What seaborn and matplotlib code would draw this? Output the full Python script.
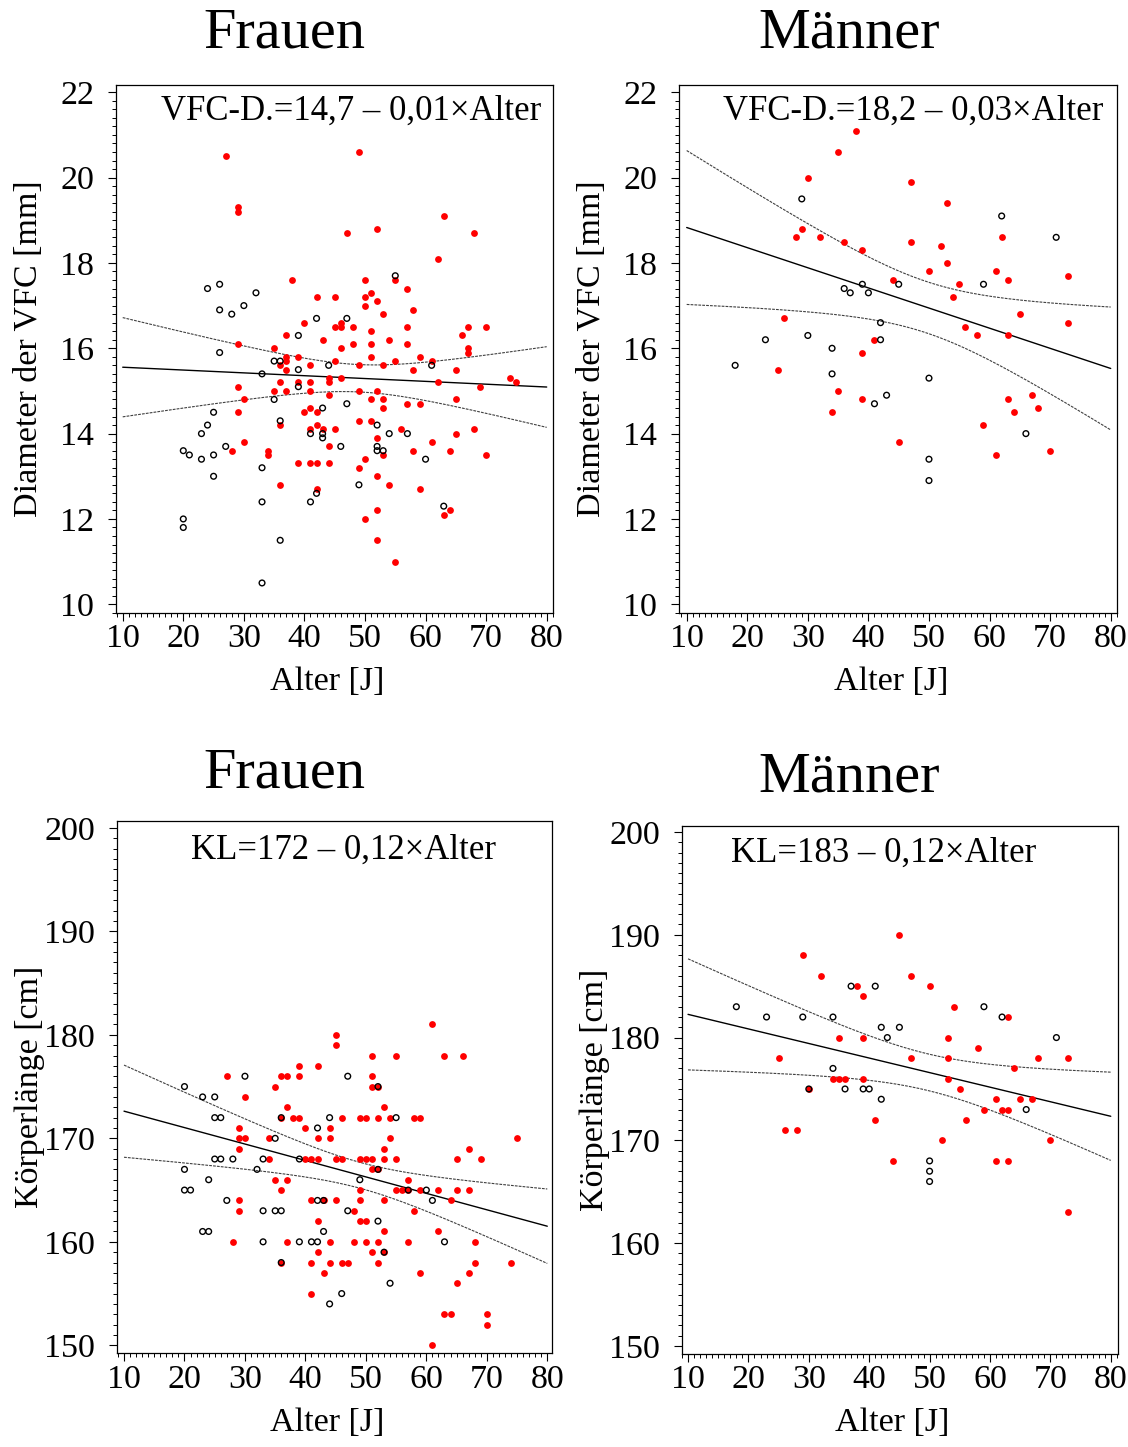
import numpy as np
import pandas as pd
import matplotlib
matplotlib.use("Agg")
import matplotlib.pyplot as plt
import seaborn as sns
from matplotlib.ticker import MultipleLocator

# ---------------- data ----------------
# Panel 1: Frauen, VFC diameter [mm]
f_vfc_red_age = [27, 29, 29, 38, 42, 40, 37, 43, 29, 35, 37, 37, 37, 39, 36, 41, 44, 44, 29, 36,
                 39, 41, 30, 35, 37, 41, 44, 29, 40, 41, 42, 36, 41, 42, 43, 30, 28, 34, 34, 44,
                 39, 41, 42, 44, 36, 42,
                 49, 63, 47, 52, 68, 62, 50, 55, 57, 45, 50, 51, 52, 50, 53, 58, 45, 46, 46, 48,
                 57, 67, 70, 51, 66, 46, 48, 51, 54, 57, 67, 67, 51, 59, 45, 49, 53, 55, 61, 58,
                 65, 46, 62, 74, 75, 69, 49, 52, 51, 53, 53, 57, 59, 65, 45, 49, 51, 56, 52, 65,
                 68, 50, 49, 53, 58, 61, 64, 70, 52, 54, 59, 52, 50, 63, 64, 52, 55]
f_vfc_red_val = [20.5, 19.3, 19.2, 17.6, 17.2, 16.6, 16.3, 16.2, 16.1, 16.0, 15.8, 15.7, 15.5, 15.8, 15.6, 15.6, 15.3, 15.2, 15.1, 15.2,
                 15.2, 15.2, 14.8, 15.0, 15.0, 15.0, 14.9, 14.5, 14.5, 14.6, 14.5, 14.2, 14.1, 14.2, 14.1, 13.8, 13.6, 13.6, 13.5, 13.7,
                 13.3, 13.3, 13.3, 13.3, 12.8, 12.7,
                 20.6, 19.1, 18.7, 18.8, 18.7, 18.1, 17.6, 17.6, 17.4, 17.2, 17.2, 17.3, 17.1, 17.0, 16.8, 16.9, 16.5, 16.6, 16.5, 16.5,
                 16.5, 16.5, 16.5, 16.4, 16.3, 16.0, 16.1, 16.1, 16.2, 16.1, 16.0, 15.9, 15.8, 15.8, 15.7, 15.6, 15.6, 15.7, 15.7, 15.5,
                 15.5, 15.3, 15.2, 15.3, 15.2, 15.1, 15.0, 15.0, 14.8, 14.8, 14.6, 14.7, 14.7, 14.8, 14.1, 14.3, 14.3, 14.1, 13.9, 14.0,
                 14.1, 13.4, 13.2, 13.5, 13.6, 13.8, 13.6, 13.5, 13.0, 12.8, 12.7, 12.2, 12.0, 12.1, 12.2, 11.5, 11.0]
f_vfc_blk_age = [24, 26, 32, 26, 28, 30, 42, 39, 26, 35, 36, 39, 33, 44, 39, 35, 25, 24, 23, 36,
                 41, 43, 43, 43, 20, 21, 23, 25, 27, 25, 33, 33, 41, 42, 20, 20, 36, 33,
                 55, 47, 61, 47, 52, 54, 57, 46, 52, 52, 53, 60, 49, 63]
f_vfc_blk_val = [17.4, 17.5, 17.3, 16.9, 16.8, 17.0, 16.7, 16.3, 15.9, 15.7, 15.7, 15.5, 15.4, 15.6, 15.1, 14.8, 14.5, 14.2, 14.0, 14.3,
                 14.0, 14.6, 14.0, 13.9, 13.6, 13.5, 13.4, 13.5, 13.7, 13.0, 13.2, 12.4, 12.4, 12.6, 12.0, 11.8, 11.5, 10.5,
                 17.7, 16.7, 15.6, 14.7, 14.2, 14.0, 14.0, 13.7, 13.7, 13.6, 13.6, 13.4, 12.8, 12.3]

# Panel 2: Männer, VFC diameter [mm]
m_vfc_red_age = [38, 35, 30, 29, 28, 32, 36, 39, 44, 26, 25, 41, 39, 35, 39, 34, 45,
                 47, 53, 47, 52, 62, 53, 50, 61, 63, 73, 55, 54, 65, 73, 56, 58, 63, 63, 67, 64,
                 68, 59, 61, 70]
m_vfc_red_val = [21.1, 20.6, 20.0, 18.8, 18.6, 18.6, 18.5, 18.3, 17.6, 16.7, 15.5, 16.2, 15.9, 15.0, 14.8, 14.5, 13.8,
                 19.9, 19.4, 18.5, 18.4, 18.6, 18.0, 17.8, 17.8, 17.6, 17.7, 17.5, 17.2, 16.8, 16.6, 16.5, 16.3, 16.3, 14.8, 14.9, 14.5,
                 14.6, 14.2, 13.5, 13.6]
m_vfc_blk_age = [29, 36, 37, 39, 40, 45, 42, 42, 23, 30, 34, 34, 18, 43, 41,
                 62, 71, 59, 50, 66, 50, 50]
m_vfc_blk_val = [19.5, 17.4, 17.3, 17.5, 17.3, 17.5, 16.6, 16.2, 16.2, 16.3, 16.0, 15.4, 15.6, 14.9, 14.7,
                 19.1, 18.6, 17.5, 15.3, 14.0, 13.4, 12.9]

# Panel 3: Frauen, body length [cm]
f_kl_red_age = [45, 45, 27, 36, 37, 39, 39, 42, 35, 30, 37, 38, 39, 36, 29, 40, 44, 29, 30, 34,
                42, 44, 29, 34, 40, 41, 42, 45, 35, 37, 36, 29, 29, 41, 43, 45, 42, 28, 37, 44,
                42, 36, 41, 44, 43, 41,
                61, 51, 55, 63, 66, 51, 51, 52, 53, 46, 49, 50, 52, 54, 58, 59, 54, 53, 67, 75,
                46, 49, 50, 51, 53, 55, 65, 69, 51, 52, 57, 49, 55, 56, 57, 59, 62, 65, 67, 49,
                53, 64, 48, 58, 49, 50, 53, 62, 48, 50, 52, 57, 68, 51, 53, 46, 47, 52, 68, 74,
                59, 67, 65, 63, 64, 70, 70, 61]
f_kl_red_val = [180, 179, 176, 176, 176, 177, 176, 177, 175, 174, 173, 172, 172, 172, 171, 171, 171, 170, 170, 170,
                170, 170, 169, 168, 168, 168, 168, 168, 166, 166, 165, 164, 163, 164, 164, 164, 162, 160, 160, 160,
                159, 158, 158, 158, 157, 155,
                181, 178, 178, 178, 178, 176, 175, 175, 173, 172, 172, 172, 172, 172, 172, 172, 170, 169, 169, 170,
                168, 168, 168, 168, 168, 168, 168, 168, 167, 167, 166, 165, 165, 165, 165, 165, 165, 165, 165, 164,
                164, 164, 163, 163, 162, 162, 161, 161, 160, 160, 160, 160, 160, 159, 159, 158, 158, 158, 158, 158,
                157, 157, 156, 153, 153, 153, 152, 150]
f_kl_blk_age = [20, 23, 25, 30, 25, 26, 36, 44, 42, 35, 25, 26, 28, 33, 39, 20, 32, 24, 20, 21,
                27, 42, 43, 33, 35, 36, 23, 24, 43, 33, 39, 41, 42, 36, 44,
                47, 52, 55, 49, 52, 57, 60, 61, 47, 52, 63, 53, 54, 46]
f_kl_blk_val = [175, 174, 174, 176, 172, 172, 172, 172, 171, 170, 168, 168, 168, 168, 168, 167, 167, 166, 165, 165,
                164, 164, 164, 163, 163, 163, 161, 161, 161, 160, 160, 160, 160, 158, 154,
                176, 175, 172, 166, 167, 165, 165, 164, 163, 162, 160, 159, 156, 155]

# Panel 4: Männer, body length [cm]
m_kl_red_age = [45, 29, 32, 38, 39, 35, 39, 25, 34, 35, 36, 39, 30, 41, 26, 28, 44,
                47, 50, 54, 63, 53, 58, 47, 53, 68, 73, 64, 53, 55, 61, 65, 67, 59, 62, 63, 56,
                70, 52, 61, 63, 73]
m_kl_red_val = [190, 188, 186, 185, 184, 180, 180, 178, 176, 176, 176, 176, 175, 172, 171, 171, 168,
                186, 185, 183, 182, 180, 179, 178, 178, 178, 178, 177, 176, 175, 174, 174, 174, 173, 173, 173, 172,
                170, 170, 168, 168, 163]
m_kl_blk_age = [18, 23, 29, 34, 37, 41, 42, 45, 43, 34, 30, 36, 39, 40, 42,
                59, 62, 71, 66, 50, 50, 50]
m_kl_blk_val = [183, 182, 182, 182, 185, 185, 181, 181, 180, 177, 175, 175, 175, 175, 174,
                183, 182, 180, 173, 168, 167, 166]

titles = ["Frauen", "Männer", "Frauen", "Männer"]
equations = ["VFC-D.=14,7 – 0,01×Alter", "VFC-D.=18,2 – 0,03×Alter",
             "KL=172 – 0,12×Alter", "KL=183 – 0,12×Alter"]
ylabels = ["Diameter der VFC [mm]", "Diameter der VFC [mm]",
           "Körperlänge [cm]", "Körperlänge [cm]"]
xlabel = "Alter [J]"
x_ticks = [10, 20, 30, 40, 50, 60, 70, 80]
y_ticks_vfc = [10, 12, 14, 16, 18, 20, 22]
y_ticks_kl = [150, 160, 170, 180, 190, 200]
fit_range = [10, 80]

# ---------------- style ----------------
sns.set_style("ticks")
plt.rcParams['font.family'] = ['Liberation Serif', 'DejaVu Serif']
for key in ['text.color', 'axes.labelcolor', 'xtick.color', 'ytick.color', 'axes.edgecolor']:
    plt.rcParams[key] = 'black'
plt.rcParams['axes.linewidth'] = 0.9

fig = plt.figure(figsize=(11.28, 14.47), dpi=100)

W, H = 1128, 1447
boxes = [(116, 553, 85, 613), (679.3, 1117, 85, 613),
         (116.7, 552, 821, 1353.3), (682, 1117.7, 826, 1354)]
xlims = [(8.89, 81.04), (8.78, 81.04), (8.79, 80.78), (9.0, 81.15)]
ylims = [(9.796, 22.17), (9.796, 22.17), (149.23, 200.66), (149.22, 200.58)]
eq_pos = [(0.538, 0.934), (0.534, 0.934), (0.522, 0.930), (0.463, 0.932)]
title_pos = [(284.5, 48), (849, 48), (284.5, 787), (849, 791)]

panels = [
    (f_vfc_red_age, f_vfc_red_val, f_vfc_blk_age, f_vfc_blk_val),
    (m_vfc_red_age, m_vfc_red_val, m_vfc_blk_age, m_vfc_blk_val),
    (f_kl_red_age, f_kl_red_val, f_kl_blk_age, f_kl_blk_val),
    (m_kl_red_age, m_kl_red_val, m_kl_blk_age, m_kl_blk_val),
]


def regression_bands(x, y, xs):
    """OLS fit with 95 % confidence band of the mean."""
    x = np.asarray(x, float)
    y = np.asarray(y, float)
    n = len(x)
    df = n - 2
    t = 1.96 + 2.4 / df
    b, a = np.polyfit(x, y, 1)
    yhat = a + b * xs
    s = np.sqrt(np.sum((y - (a + b * x)) ** 2) / df)
    sxx = np.sum((x - x.mean()) ** 2)
    h = t * s * np.sqrt(1.0 / n + (xs - x.mean()) ** 2 / sxx)
    return yhat, yhat - h, yhat + h


for i, (ra, rv, ba, bv) in enumerate(panels):
    l, r, t, b = boxes[i]
    ax = fig.add_axes([l / W, 1 - b / H, (r - l) / W, (b - t) / H])
    red = pd.DataFrame({"Alter": ra, "Wert": rv})
    blk = pd.DataFrame({"Alter": ba, "Wert": bv})
    sns.scatterplot(data=red, x="Alter", y="Wert", ax=ax, color="#ff0000",
                    s=24, linewidth=0, zorder=3, legend=False)
    sns.scatterplot(data=blk, x="Alter", y="Wert", ax=ax, color="black",
                    s=17, linewidth=1.0, zorder=4, legend=False)
    coll = ax.collections[-1]
    coll.set_facecolor("none")
    coll.set_edgecolor("black")

    xs = np.linspace(fit_range[0], fit_range[1], 200)
    yhat, lo, hi = regression_bands(ra, rv, xs)
    ax.plot(xs, yhat, color="black", lw=1.0, zorder=2)
    ax.plot(xs, lo, color="0.25", lw=0.8, ls=(0, (2.5, 1)), zorder=2)
    ax.plot(xs, hi, color="0.25", lw=0.8, ls=(0, (2.5, 1)), zorder=2)

    ax.set_xlim(*xlims[i])
    ax.set_ylim(*ylims[i])
    ax.set_xticks(x_ticks)
    ax.xaxis.set_minor_locator(MultipleLocator(1))
    if i < 2:
        ax.set_yticks(y_ticks_vfc)
        ax.yaxis.set_minor_locator(MultipleLocator(0.2))
    else:
        ax.set_yticks(y_ticks_kl)
        ax.yaxis.set_minor_locator(MultipleLocator(1))
    ax.tick_params(which="major", length=5.8, width=0.8, direction="out",
                   labelsize=24.5, color="black", labelcolor="black")
    ax.tick_params(which="minor", length=2.9, width=0.7, direction="out", color="black")
    ax.tick_params(axis="x", which="major", pad=2)
    ax.tick_params(axis="y", which="major", pad=10)
    for sp in ax.spines.values():
        sp.set_visible(True)
        sp.set_color("black")
        sp.set_linewidth(0.9)

    ax.set_xlabel(xlabel, fontsize=24.5, color="black")
    ax.set_ylabel(ylabels[i], fontsize=24.5, color="black")
    ax.xaxis.set_label_coords(0.483, -0.102)
    ax.yaxis.set_label_coords(-0.165, 0.5)

    ex, ey = eq_pos[i]
    ax.text(ex, ey, equations[i], transform=ax.transAxes, ha="center",
            va="baseline", fontsize=25, zorder=5, color="black")

    tx, ty = title_pos[i]
    fig.text(tx / W, 1 - ty / H, titles[i], ha="center", va="baseline",
             fontsize=42, color="black")

fig.savefig("out.png", dpi=100)
